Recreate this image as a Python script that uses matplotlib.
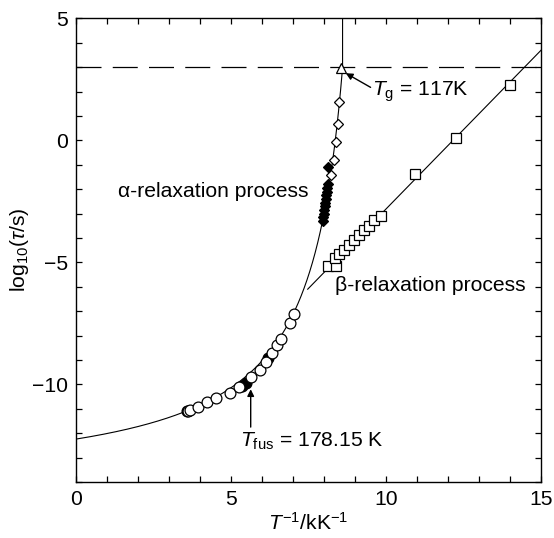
import numpy as np
import matplotlib
matplotlib.use("Agg")
import matplotlib.pyplot as plt

plt.rcParams['font.family'] = ['Liberation Sans', 'DejaVu Sans']
plt.rcParams['mathtext.fontset'] = 'custom'
plt.rcParams['mathtext.rm'] = 'Liberation Sans'
plt.rcParams['mathtext.it'] = 'Liberation Sans:italic'
plt.rcParams['axes.unicode_minus'] = True

# ---- data (x = 1/T in kK^-1, y = log10(tau/s)) ----
circ_x = [3.62, 3.68, 3.94, 4.21, 4.52, 4.97, 5.26, 5.63, 5.92, 6.13, 6.33, 6.47, 6.62, 6.90, 7.03]
circ_y = [-11.08, -11.05, -10.91, -10.74, -10.56, -10.36, -10.11, -9.71, -9.41, -9.08, -8.73, -8.38, -8.15, -7.50, -7.12]
fcirc_x = [3.58, 5.36, 5.47, 6.20]
fcirc_y = [-11.10, -10.05, -9.93, -8.92]
odia_x = [8.23, 8.32, 8.37, 8.46, 8.49]
odia_y = [-1.43, -0.82, -0.05, 0.68, 1.55]
fdia_x = [8.14, 8.11, 8.10, 8.08, 8.07, 8.05, 8.04, 8.02, 8.00, 7.99, 7.97, 7.95]
fdia_y = [-1.09, -1.80, -1.95, -2.10, -2.25, -2.40, -2.55, -2.70, -2.85, -3.00, -3.15, -3.30]
sq_x = [8.14, 8.38, 8.35, 8.49, 8.64, 8.81, 8.96, 9.14, 9.30, 9.46, 9.62, 9.84, 10.93, 12.26, 14.00]
sq_y = [-5.15, -5.15, -4.81, -4.67, -4.50, -4.29, -4.09, -3.89, -3.68, -3.50, -3.27, -3.11, -1.36, 0.11, 2.25]
tg_x = [8.55]
tg_y = [2.96]

# fit parameters
vft_A, vft_B, vft_T0 = -12.24, 204.6, 102.9     # alpha: VFT
arr_x0, arr_y0, arr_slope = 7.47, -6.10, 1.30  # beta: Arrhenius line
tau_g = 3.0

fig = plt.figure(figsize=(5.54, 5.38), dpi=100)
ax = fig.add_axes([0.1377, 0.1041, 0.8388, 0.8619])

# alpha curve (VFT) up to log tau = 3, then vertical
xx = np.linspace(1e-6, 1000.0 / vft_T0 - 1e-4, 6000)
T = 1000.0 / xx
yy = vft_A + vft_B / (T - vft_T0)
m = yy <= tau_g
xa = np.concatenate([[0.0], xx[m]])
ya = np.concatenate([[vft_A], yy[m]])
xa = np.append(xa, xa[-1]); ya = np.append(ya, 6)
ax.plot(xa, ya, color='black', lw=0.8, zorder=2)

# beta line
bx = np.array([arr_x0, 15.0])
ax.plot(bx, arr_y0 + arr_slope * (bx - arr_x0), color='black', lw=0.8, zorder=2)

# dashed Tg line
ax.axhline(tau_g, color='black', lw=0.9, dashes=(20, 9), zorder=1)

mk = dict(linestyle='none', markeredgecolor='black', markeredgewidth=0.9, zorder=3)
ax.plot(fcirc_x, fcirc_y, marker='o', markersize=7.8, markerfacecolor='black', **mk)
ax.plot(circ_x, circ_y, marker='o', markersize=7.8, markerfacecolor='white', **mk)
ax.plot(fdia_x, fdia_y, marker='D', markersize=5.6, markerfacecolor='black', **mk)
ax.plot(odia_x, odia_y, marker='D', markersize=5.6, markerfacecolor='white', **mk)
ax.plot(sq_x, sq_y, marker='s', markersize=7.8, markerfacecolor='white', **mk)
ax.plot(tg_x, tg_y, marker='^', markersize=7.0, markerfacecolor='white', **mk)

fs = 15.2
ax.text(1.36, -2.1, 'α-relaxation process', fontsize=fs, va='center', ha='left')
ax.text(8.35, -5.93, 'β-relaxation process', fontsize=fs, va='center', ha='left')
ax.text(9.55, 2.0, r'$T_{\mathrm{g}}$ = 117K', fontsize=fs, va='center', ha='left')
ax.text(5.30, -12.35, r'$T_{\mathrm{fus}}$ = 178.15 K', fontsize=fs, va='center', ha='left')
arr = dict(arrowstyle='-|>', color='black', lw=1.0, mutation_scale=10, shrinkA=0, shrinkB=0)
ax.annotate('', xy=(8.70, 2.75), xytext=(9.50, 2.17), arrowprops=arr)
ax.annotate('', xy=(5.63, -10.2), xytext=(5.63, -11.75), arrowprops=arr)

ax.set_xlim(0, 15)
ax.set_ylim(-14, 5)
ax.set_xticks([0, 5, 10, 15])
ax.set_yticks([-10, -5, 0, 5])
ax.set_xticks(np.arange(0, 16, 1), minor=True)
ax.set_yticks(np.arange(-14, 6, 1), minor=True)
ax.tick_params(which='both', direction='in', top=True, right=True, length=4, width=0.9,
               labelsize=fs, pad=6)
for s in ax.spines.values():
    s.set_linewidth(1.0)

ax.set_xlabel('$T^{\u22121}$/kK$^{\u22121}$', fontsize=fs, labelpad=2)
ax.set_ylabel(r'log$_{10}$($\tau$/s)', fontsize=fs, labelpad=1)

fig.savefig('out.png', dpi=100)
